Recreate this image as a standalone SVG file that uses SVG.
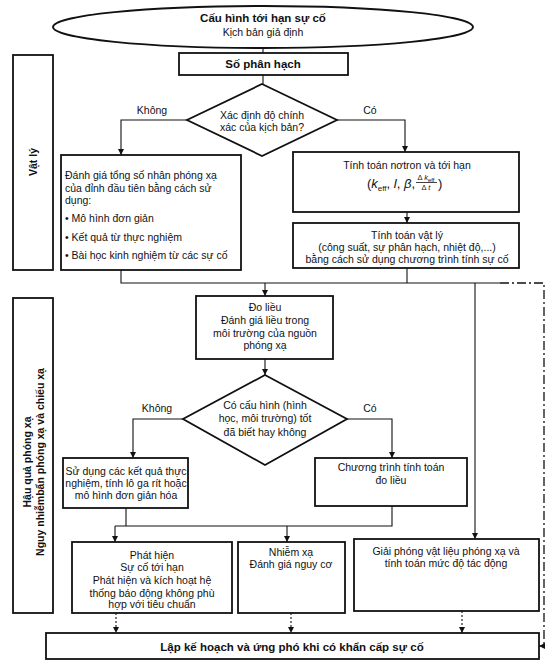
<svg xmlns="http://www.w3.org/2000/svg" width="554" height="663" viewBox="0 0 554 663">
<defs>
<style>
text{font-family:"Liberation Sans",Arial,sans-serif;font-size:10.5px;fill:#111}
.c{text-anchor:middle}
.b{font-weight:bold}
.box{fill:#fff;stroke:#111;stroke-width:1.8}
.ln{fill:none;stroke:#111;stroke-width:1.1}
.dot{fill:none;stroke:#111;stroke-width:1.1;stroke-dasharray:2 2}
.dash{fill:none;stroke:#111;stroke-width:1.3;stroke-dasharray:9 3 2 3}
</style>
<marker id="ar" viewBox="0 0 8 8" refX="8" refY="4" markerWidth="6" markerHeight="6" orient="auto" markerUnits="userSpaceOnUse">
<path d="M0,0 L8,4 L0,8 z" fill="#111"/>
</marker>
</defs>
<rect width="554" height="663" fill="#fff"/>

<g id="connectors">
<path class="ln" d="M263,48 V53"/>
<path class="ln" d="M263,75 V84"/>
<path class="ln" d="M187,120 H121 V155" marker-end="url(#ar)"/>
<path class="ln" d="M337,120 H405 V152" marker-end="url(#ar)"/>
<path class="ln" d="M407,212 V223" marker-end="url(#ar)"/>
<path class="ln" d="M121,270 V283 H500"/>
<path class="ln" d="M407,268 V283"/>
<path class="ln" d="M265,283 V296" marker-end="url(#ar)"/>
<path class="ln" d="M265,359 V375" marker-end="url(#ar)"/>
<path class="ln" d="M183,419 H133 V458" marker-end="url(#ar)"/>
<path class="ln" d="M347,419 H392 V458" marker-end="url(#ar)"/>
<path class="ln" d="M126,508 V526"/>
<path class="ln" d="M392,506 V526 H115"/>
<path class="ln" d="M115,526 V542" marker-end="url(#ar)"/>
<path class="ln" d="M287,526 V542" marker-end="url(#ar)"/>
<path class="ln" d="M475,283 V539" marker-end="url(#ar)"/>
<path class="dash" d="M500,283 H544 V646 H541"/>
<path class="ln" d="M544,646 H539" marker-end="url(#ar)"/>
<path class="dot" d="M116,613 V633" marker-end="url(#ar)"/>
<path class="dot" d="M291,613 V633" marker-end="url(#ar)"/>
<path class="dot" d="M462,611 V633" marker-end="url(#ar)"/>
</g>

<g id="n-top">
<ellipse class="box" cx="263" cy="27" rx="210" ry="21"/>
<text class="c b" x="263" y="22" style="font-size:11.5px">Cấu hình tới hạn sự cố</text>
<text class="c" x="263" y="36">Kịch bản giả định</text>
</g>

<g id="n-sophanhach">
<rect class="box" x="179" y="53" width="169" height="22"/>
<text class="c b" x="263" y="68" style="font-size:11.5px">Số phân hạch</text>
</g>

<g id="n-vatly">
<rect class="box" x="13" y="55" width="40" height="215"/>
<text class="c b" transform="translate(33,162) rotate(-90)" x="0" y="4">Vật lý</text>
</g>

<g id="n-dec1">
<polygon class="box" points="262,84 337,120 262,156 187,120"/>
<text class="c" x="262" y="119">Xác định độ chính</text>
<text class="c" x="262" y="131">xác của kịch bản?</text>
</g>
<text class="c" x="152" y="114">Không</text>
<text class="c" x="370" y="114">Có</text>

<g id="n-danhgia">
<rect class="box" x="61" y="155" width="180" height="115"/>
<text x="65" y="179">Đánh giá tổng số nhân phóng xạ</text>
<text x="65" y="192">của đỉnh đầu tiên bằng cách sử</text>
<text x="65" y="204">dụng:</text>
<text x="65" y="222">• Mô hình đơn giản</text>
<text x="65" y="241">• Kết quả từ thực nghiệm</text>
<text x="65" y="259">• Bài học kinh nghiệm từ các sự cố</text>
</g>

<g id="n-notron">
<rect class="box" x="293" y="152" width="226" height="60"/>
<text class="c" x="407" y="169">Tính toán nơtron và tới hạn</text>
<text x="367" y="188" style="font-size:13px">(<tspan font-style="italic">k</tspan><tspan style="font-size:8px" dy="3">eff</tspan><tspan dy="-3">, </tspan><tspan font-style="italic">l</tspan>, <tspan font-style="italic">β</tspan>,</text>
<text x="426" y="180" class="c" style="font-size:7.5px">Δ <tspan font-style="italic">k</tspan><tspan style="font-size:6px" dy="1.5">eff</tspan></text>
<path d="M416,182.5 H437" stroke="#111" stroke-width="0.8"/>
<text x="426" y="190" class="c" style="font-size:7.5px">Δ <tspan font-style="italic">t</tspan></text>
<text x="438" y="188" style="font-size:13px">)</text>
</g>

<g id="n-vatly2">
<rect class="box" x="293" y="223" width="226" height="45"/>
<text class="c" x="407" y="239">Tính toán vật lý</text>
<text class="c" x="407" y="251">(công suất, sự phân hạch, nhiệt độ,...)</text>
<text class="c" x="407" y="263">bằng cách sử dụng chương trình tính sự cố</text>
</g>

<g id="n-hauqua">
<rect class="box" x="13" y="298" width="40" height="315"/>
<g transform="translate(33,462) rotate(-90)">
<text class="c b" x="0" y="-2">Hậu quả phóng xạ</text>
<text class="c b" x="0" y="11">Nguy nhiễmbẩn phóng xạ và chiếu xạ</text>
</g>
</g>

<g id="n-dolieu">
<rect class="box" x="196" y="296" width="137" height="63"/>
<text class="c" x="265" y="311">Đo liều</text>
<text class="c" x="265" y="324">Đánh giá liều trong</text>
<text class="c" x="265" y="337">môi trường của nguồn</text>
<text class="c" x="265" y="349">phóng xạ</text>
</g>

<g id="n-dec2">
<polygon class="box" points="265,375 347,419 265,465 183,419"/>
<text class="c" x="265" y="409">Có cấu hình (hình</text>
<text class="c" x="265" y="422">học, môi trường) tốt</text>
<text class="c" x="265" y="436">đã biết hay không</text>
</g>
<text class="c" x="157" y="412">Không</text>
<text class="c" x="370" y="412">Có</text>

<g id="n-sudung">
<rect class="box" x="63" y="458" width="125" height="50"/>
<text class="c" x="126" y="475">Sử dụng các kết quả thực</text>
<text class="c" x="126" y="487">nghiệm, tính lô ga rít hoặc</text>
<text class="c" x="126" y="499">mô hình đơn giản hóa</text>
</g>

<g id="n-chuongtrinh">
<rect class="box" x="315" y="458" width="152" height="48"/>
<text class="c" x="391" y="471">Chương trình tính toán</text>
<text class="c" x="391" y="484">đo liều</text>
</g>

<g id="n-phathien">
<rect class="box" x="72" y="542" width="160" height="71"/>
<text class="c" x="152" y="559">Phát hiện</text>
<text class="c" x="152" y="571">Sự cố tới hạn</text>
<text class="c" x="152" y="584">Phát hiện và kích hoạt hệ</text>
<text class="c" x="152" y="597">thống báo động không phù</text>
<text class="c" x="152" y="608">hợp với tiêu chuẩn</text>
</g>

<g id="n-nhiemxa">
<rect class="box" x="238" y="542" width="107" height="71"/>
<text class="c" x="291" y="556">Nhiễm xạ</text>
<text class="c" x="291" y="568">Đánh giá nguy cơ</text>
</g>

<g id="n-giaiphong">
<rect class="box" x="354" y="539" width="185" height="72"/>
<text class="c" x="446" y="555">Giải phóng vật liệu phóng xạ và</text>
<text class="c" x="446" y="567">tính toán mức độ tác động</text>
</g>

<g id="n-lapkehoach">
<rect class="box" x="46" y="633" width="493" height="26"/>
<text class="c b" x="292" y="651" style="font-size:11.5px">Lập kế hoạch và ứng phó khi có khẩn cấp sự cố</text>
</g>
</svg>
